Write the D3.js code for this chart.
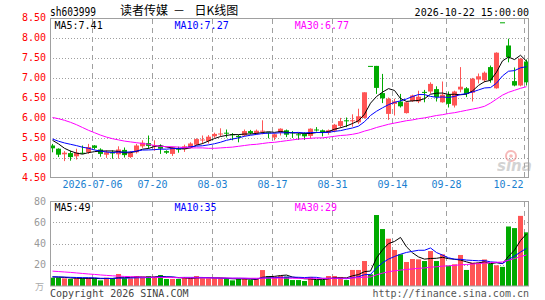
<!DOCTYPE html>
<html><head><meta charset="utf-8">
<script src="https://cdn.jsdelivr.net/npm/d3@7"></script>
<style>body{margin:0;background:#fff}svg{display:block}</style>
</head><body>
<svg id="c" width="545" height="300"></svg>
<script>
const dates = ["2026-06-25","2026-06-26","2026-06-29","2026-06-30","2026-07-01","2026-07-02","2026-07-03",
"2026-07-06","2026-07-07","2026-07-08","2026-07-09","2026-07-10","2026-07-13","2026-07-14","2026-07-15","2026-07-16","2026-07-17",
"2026-07-20","2026-07-21","2026-07-22","2026-07-23","2026-07-24","2026-07-27","2026-07-28","2026-07-29","2026-07-30","2026-07-31",
"2026-08-03","2026-08-04","2026-08-05","2026-08-06","2026-08-07","2026-08-10","2026-08-11","2026-08-12","2026-08-13","2026-08-14",
"2026-08-17","2026-08-18","2026-08-19","2026-08-20","2026-08-21","2026-08-24","2026-08-25","2026-08-26","2026-08-27","2026-08-28",
"2026-08-31","2026-09-01","2026-09-02","2026-09-03","2026-09-04","2026-09-07","2026-09-08","2026-09-09","2026-09-10","2026-09-11",
"2026-09-14","2026-09-15","2026-09-16","2026-09-17","2026-09-18","2026-09-21","2026-09-22","2026-09-23","2026-09-24",
"2026-09-28","2026-09-29","2026-09-30","2026-10-08","2026-10-09","2026-10-12","2026-10-13","2026-10-14","2026-10-15","2026-10-16",
"2026-10-19","2026-10-20","2026-10-21","2026-10-22"];

const opens = [5.30,5.22,5.08,5.11,5.03,5.12,5.13,5.30,5.20,5.07,5.13,5.08,5.19,5.01,5.13,5.28,5.36,5.28,5.28,5.16,
5.09,5.22,5.21,5.26,5.32,5.43,5.41,5.53,5.59,5.62,5.58,5.54,5.55,5.66,5.60,5.65,5.63,5.50,5.63,5.68,
5.63,5.58,5.59,5.54,5.70,5.68,5.62,5.67,5.79,5.93,5.91,5.88,5.99,7.29,7.29,6.61,6.09,6.34,6.40,6.11,
6.41,6.40,6.64,6.65,6.71,6.38,6.57,6.30,6.70,6.73,6.62,6.95,6.93,7.26,6.73,8.38,7.80,6.91,6.80,7.40];
const highs = [5.34,5.23,5.16,5.17,5.22,5.30,5.34,5.31,5.23,5.18,5.18,5.28,5.25,5.16,5.34,5.43,5.55,5.43,5.33,5.18,
5.27,5.27,5.32,5.38,5.48,5.55,5.56,5.62,5.73,5.70,5.61,5.57,5.70,5.69,5.70,5.93,5.63,5.60,5.73,5.70,
5.66,5.61,5.63,5.73,5.76,5.70,5.70,5.84,5.99,6.00,6.08,6.22,6.63,7.29,7.29,7.09,6.50,6.47,6.59,6.40,
6.57,6.67,6.69,6.88,6.78,6.90,6.65,6.67,7.26,6.76,6.99,7.10,7.15,7.30,7.63,8.38,7.97,7.25,7.49,7.45];
const lows = [5.13,5.01,4.91,4.92,4.95,5.09,5.09,5.20,5.02,4.99,4.97,4.97,5.00,4.99,5.10,5.24,5.22,5.17,5.09,5.09,
5.04,5.12,5.14,5.24,5.30,5.34,5.35,5.49,5.53,5.50,5.43,5.38,5.53,5.58,5.57,5.58,5.48,5.43,5.55,5.51,
5.49,5.44,5.44,5.47,5.65,5.53,5.57,5.63,5.74,5.76,5.77,5.84,5.97,7.29,6.59,6.36,5.94,6.05,6.25,6.10,
6.39,6.36,6.38,6.60,6.40,6.37,6.25,6.25,6.63,6.51,6.40,6.85,6.88,6.87,6.72,8.38,7.38,6.78,6.78,6.80];
const closes = [5.23,5.07,5.12,5.01,5.12,5.10,5.26,5.24,5.09,5.13,5.10,5.20,5.06,5.11,5.30,5.37,5.29,5.31,5.22,5.12,
5.25,5.20,5.28,5.35,5.46,5.45,5.52,5.59,5.60,5.60,5.56,5.51,5.66,5.61,5.67,5.67,5.61,5.58,5.72,5.57,
5.61,5.57,5.53,5.72,5.69,5.62,5.68,5.82,5.91,5.91,5.93,6.03,6.63,7.29,6.74,6.48,6.47,6.40,6.28,6.38,
6.55,6.52,6.62,6.84,6.51,6.57,6.34,6.65,6.77,6.59,6.97,7.03,7.12,6.93,7.62,8.38,7.51,6.80,7.47,6.88];
const volumes = [7.8,7.8,7.2,6.6,7.2,7.2,7.8,7.2,5.3,7.8,7.2,11.3,7.2,7.2,9.4,7.8,9.4,8.8,10.3,6.6,
6.6,6.6,8.2,7.2,9.4,7.2,7.2,7.2,7.2,7.2,5.3,6.6,7.2,5.6,6.6,15.0,9.4,8.8,9.4,8.8,
5.6,5.6,4.7,8.5,5.6,5.6,9.4,9.4,8.5,5.6,15.1,15.1,23.5,11.0,66.8,53.6,44.5,33.9,29.8,22.6,
25.4,25.1,23.5,32.9,23.5,29.8,19.1,20.4,29.2,15.1,22.0,22.0,25.0,21.0,19.5,18.0,56.0,54.5,66.0,50.5];
// closes / volumes of the 9 sessions before the first bar (estimated from the MA lines)
const priorCloses = [5.62,5.55,5.35,5.45,5.50,5.52,5.67,5.36,5.37];
const priorVolumes = [9.0,9.0,8.5,9.0,8.5,9.0,8.0,9.5,8.5];
const ma30Price = [6.00,5.97,5.93,5.88,5.82,5.75,5.68,5.62,5.56,5.51,5.47,5.44,5.41,5.39,5.37,5.35,5.33,5.30,5.28,5.27,
5.27,5.26,5.25,5.24,5.24,5.24,5.23,5.23,5.24,5.25,5.26,5.28,5.30,5.32,5.33,5.35,5.37,5.38,5.40,5.42,
5.44,5.46,5.47,5.48,5.49,5.49,5.51,5.53,5.55,5.56,5.58,5.61,5.66,5.70,5.75,5.79,5.83,5.86,5.89,5.92,
5.94,5.97,5.99,6.02,6.05,6.07,6.10,6.12,6.15,6.18,6.21,6.24,6.28,6.36,6.46,6.56,6.63,6.68,6.73,6.77];
const ma30Volume = [14.0,13.6,13.2,12.8,12.3,11.8,11.3,10.9,10.4,10.0,9.6,9.3,9.0,8.8,8.6,8.4,8.3,8.2,8.1,8.0,
7.9,7.8,7.8,7.7,7.7,7.6,7.6,7.6,7.5,7.5,7.4,7.4,7.4,7.3,7.3,7.4,7.4,7.4,7.4,7.3,
7.3,7.2,7.2,7.2,7.2,7.2,7.2,7.3,7.3,7.3,7.5,7.8,8.3,8.5,10.5,12.1,13.4,14.3,15.0,15.5,
16.1,16.6,17.0,17.7,18.1,18.7,19.0,19.4,20.0,20.2,20.7,21.1,21.6,22.0,22.3,22.6,24.2,25.8,27.7,29.2];

const priceTicks = [4.5,5.0,5.5,6.0,6.5,7.0,7.5,8.0,8.5];
const volumeTicks = [20,40,60,80];
const dateTicks = ["2026-07-06","2026-07-20","2026-08-03","2026-08-17","2026-08-31","2026-09-14","2026-09-28","2026-10-22"];
const dateTickLabels = ["2026-07-06","07-20","08-03","08-17","08-31","09-14","09-28","10-22"];
const stockCode = "sh603999";
const titleName = "读者传媒";
const titleKind = "日K线图";
const stamp = "2026-10-22 15:00:00";
const maNames = ["MA5","MA10","MA30"];

const RED = "#ff5555", GREEN = "#00aa00", GRID = "#a0a0a0";
const MONO = "'DejaVu Sans Mono', monospace";
const maColors = ["#000000", "#0000ff", "#ff00ff"];

function movingAvg(series, prior, n) {
  const all = prior.concat(series);
  return series.map((_, i) => d3.mean(all.slice(prior.length + i - n + 1, prior.length + i + 1)));
}
const ma5P = movingAvg(closes, priorCloses, 5), ma10P = movingAvg(closes, priorCloses, 10);
const ma5V = movingAvg(volumes, priorVolumes, 5), ma10V = movingAvg(volumes, priorVolumes, 10);

const svg = d3.select("#c");
const L = 50, R = 529;
const x = d3.scaleBand().domain(dates).range([L - 0.5, R + 0.5]).paddingInner(1/6).paddingOuter(1/12);
const bw = x.bandwidth();
const cx = d => x(d) + bw / 2;
const xp = d3.scalePoint().domain(dates).range([x(dates[0]) + 0.5, x(dates[dates.length-1]) + 0.5]);
const y = d3.scaleLinear().domain([4.5, 8.5]).range([177.5, 17.5]);
const yv = d3.scaleLinear().domain([0, 80]).range([286, 201]);

// ---- header
svg.append("text").attr("x", 50).attr("y", 15.5).attr("font-family", MONO).attr("font-size", 12)
  .attr("textLength", 46).attr("lengthAdjust", "spacingAndGlyphs").text(stockCode);
const title = svg.append("text").attr("y", 15).attr("font-family", "'Noto Sans CJK SC', sans-serif").attr("font-size", 12).attr("fill", "#000");
title.append("tspan").attr("x", 120).text(titleName);
title.append("tspan").attr("x", 173).text("－");
title.append("tspan").attr("x", 194.5).text(titleKind);
svg.append("text").attr("x", 529).attr("y", 15.5).attr("text-anchor", "end").attr("font-family", MONO).attr("font-size", 10).text(stamp);

// ---- main panel grid
const gMain = svg.append("g");
gMain.selectAll("line.h").data(priceTicks.slice(1, -1)).join("line")
  .attr("x1", L).attr("x2", R).attr("y1", d => Math.round(y(d)) + 0.5).attr("y2", d => Math.round(y(d)) + 0.5)
  .attr("stroke", GRID).attr("stroke-dasharray", "1,2");
gMain.selectAll("line.v").data(dateTicks).join("line")
  .attr("x1", d => xp(d)).attr("x2", d => xp(d)).attr("y1", 19).attr("y2", 177)
  .attr("stroke", GRID).attr("stroke-dasharray", "5,4");

// watermark
const wm = svg.append("g").attr("opacity", 0.55);
wm.append("circle").attr("cx", 511).attr("cy", 156).attr("r", 5).attr("fill", "none").attr("stroke", "#f08080").attr("stroke-width", 2);
wm.append("circle").attr("cx", 511).attr("cy", 156).attr("r", 1.8).attr("fill", "#f08080");
wm.append("text").attr("x", 497).attr("y", 171).attr("font-family", "'DejaVu Sans', sans-serif").attr("font-weight", "bold")
  .attr("font-style", "italic").attr("font-size", 15).attr("fill", "#b0b0b0").text("sina");

// price axis labels
const ay = svg.append("g").attr("transform", "translate(46,0)")
  .call(d3.axisLeft(y).tickValues(priceTicks).tickFormat(d3.format(".2f")).tickSize(0).tickPadding(0));
ay.select(".domain").remove();
ay.selectAll("text").attr("fill", "#ff0000").attr("font-family", MONO).attr("font-size", 10);

// date axis
const ax = svg.append("g").attr("transform", "translate(0,178)")
  .call(d3.axisBottom(xp).tickValues(dateTicks).tickFormat((d, i) => dateTickLabels[i]).tickSize(0).tickPadding(3).offset(0));
ax.select(".domain").remove();
ax.selectAll("text").attr("fill", "#1a80d0").attr("font-family", MONO).attr("font-size", 10).attr("dy", "0.71em")
  .attr("text-anchor", (d, i) => i === dateTicks.length - 1 ? "end" : "middle")
  .attr("dx", (d, i) => i === dateTicks.length - 1 ? -1 : 0);

// candles
const idx = d3.range(dates.length);
const isUp = i => closes[i] > opens[i];
const gC = svg.append("g");
gC.selectAll("line.w").data(idx).join("line")
  .attr("x1", i => cx(dates[i])).attr("x2", i => cx(dates[i]))
  .attr("y1", i => y(highs[i])).attr("y2", i => y(lows[i]))
  .attr("stroke", i => isUp(i) ? RED : GREEN);
gC.selectAll("rect").data(idx).join("rect")
  .attr("x", i => x(dates[i])).attr("width", bw)
  .attr("y", i => y(Math.max(opens[i], closes[i])))
  .attr("height", i => Math.max(1, Math.abs(y(opens[i]) - y(closes[i]))))
  .attr("fill", i => isUp(i) ? RED : GREEN);

// MA lines (price)
const lineP = arr => d3.line().x((d, i) => cx(dates[i])).y(d => y(d))(arr);
[ma5P, ma10P, ma30Price].forEach((arr, k) => {
  svg.append("path").attr("d", lineP(arr)).attr("fill", "none").attr("stroke", maColors[k]).attr("stroke-width", 1);
});

// main frame
svg.append("rect").attr("x", L + 0.5).attr("y", 18.5).attr("width", R - L - 1).attr("height", 159)
  .attr("fill", "none").attr("stroke", GRID);

// MA labels (price)
const fmt2 = d3.format(".2f");
const lastP = [ma5P, ma10P, ma30Price].map(a => a[a.length - 1]);
[54.5, 174.5, 294.8].forEach((px, k) => {
  svg.append("text").attr("x", px).attr("y", 28.5).attr("font-family", MONO).attr("font-size", 10)
    .attr("fill", maColors[k]).text(maNames[k] + ":" + fmt2(lastP[k]));
});

// ---- volume panel
const gV = svg.append("g");
gV.selectAll("line.h").data(volumeTicks.slice(0, -1)).join("line")
  .attr("x1", L).attr("x2", R).attr("y1", d => Math.round(yv(d)) + 0.5).attr("y2", d => Math.round(yv(d)) + 0.5)
  .attr("stroke", GRID).attr("stroke-dasharray", "1,2");
gV.selectAll("line.v").data(dateTicks).join("line")
  .attr("x1", d => xp(d)).attr("x2", d => xp(d)).attr("y1", 202).attr("y2", 286)
  .attr("stroke", GRID).attr("stroke-dasharray", "5,4");

gV.selectAll("rect").data(idx).join("rect")
  .attr("x", i => x(dates[i])).attr("width", bw)
  .attr("y", i => yv(volumes[i])).attr("height", i => yv(0) - yv(volumes[i]))
  .attr("fill", i => isUp(i) ? RED : GREEN);

const lineV = arr => d3.line().x((d, i) => cx(dates[i])).y(d => yv(d))(arr);
[ma5V, ma10V, ma30Volume].forEach((arr, k) => {
  svg.append("path").attr("d", lineV(arr)).attr("fill", "none").attr("stroke", maColors[k]).attr("stroke-width", 1);
});

svg.append("rect").attr("x", L + 0.5).attr("y", 201.5).attr("width", R - L - 1).attr("height", 84.5)
  .attr("fill", "none").attr("stroke", GRID);

const avy = svg.append("g").attr("transform", "translate(46,0)")
  .call(d3.axisLeft(yv).tickValues(volumeTicks).tickSize(0).tickPadding(0));
avy.select(".domain").remove();
avy.selectAll("text").attr("fill", "#999").attr("font-family", MONO).attr("font-size", 10);
svg.append("text").attr("x", 44).attr("y", 290).attr("text-anchor", "end").attr("font-family", "'Noto Sans CJK SC', sans-serif")
  .attr("font-size", 9).attr("fill", "#aaa").text("万");

const fmt0 = d3.format(".0f");
const lastV = [ma5V, ma10V, ma30Volume].map(a => a[a.length - 1]);
[54.5, 174.5, 294.8].forEach((px, k) => {
  svg.append("text").attr("x", px).attr("y", 210.5).attr("font-family", MONO).attr("font-size", 10)
    .attr("fill", maColors[k]).text(maNames[k] + ":" + fmt0(lastV[k]));
});

// footer
svg.append("text").attr("x", 50).attr("y", 296.5).attr("font-family", MONO).attr("font-size", 10).attr("fill", "#444")
  .text("Copyright 2026 SINA.COM");
svg.append("text").attr("x", 529).attr("y", 296.5).attr("text-anchor", "end").attr("font-family", MONO).attr("font-size", 10).attr("fill", "#555")
  .text("http://finance.sina.com.cn");
</script>
</body></html>
